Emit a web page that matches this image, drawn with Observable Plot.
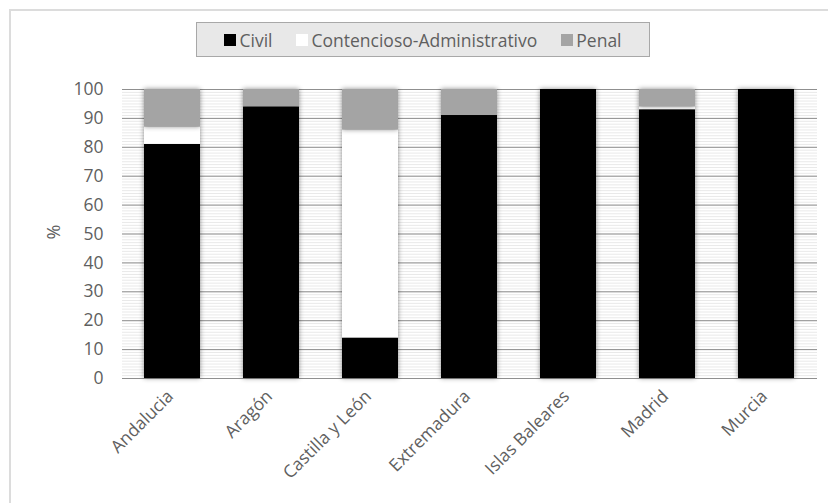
<!DOCTYPE html>
<html>
<head>
<meta charset="utf-8">
<script src="https://cdn.jsdelivr.net/npm/d3@7"></script>
<script src="https://cdn.jsdelivr.net/npm/@observablehq/plot@0.6"></script>
<style>
  html, body { margin: 0; padding: 0; background: #fff; }
  #wrap { position: relative; width: 828px; height: 503px; overflow: hidden; font-family: "Open Sans", "Noto Sans", sans-serif; }
  #frame { position: absolute; left: 9px; top: 9px; width: 830px; height: 510px; border-top: 2px solid #dcdcdc; border-left: 2px solid #dcdcdc; box-sizing: border-box; }
  #chart { position: absolute; left: 0; top: 0; }
  #legend { position: absolute; left: 196px; top: 22px; width: 454px; height: 35px; box-sizing: border-box; background: #e8e8e8; border: 1px solid #a8a8a8; display: flex; align-items: center; justify-content: center; gap: 24px; font-size: 17.5px; color: #5f5f5f; }
  #legend .item { display: flex; align-items: center; gap: 3px; }
  #legend .sw { width: 12px; height: 12px; display: inline-block; }
  #ylabel { position: absolute; left: 46px; top: 220px; transform: rotate(-90deg); font-size: 18px; color: #5f5f5f; }
  .bars rect { filter: drop-shadow(0 0 2.5px rgba(0,0,0,0.45)); }
</style>
</head>
<body>
<div id="wrap">
  <div id="frame"></div>
  <div id="chart"></div>
  <div id="legend"></div>
  <div id="ylabel">%</div>
</div>
<script>
const regions = ["Andalucia", "Aragón", "Castilla y León", "Extremadura", "Islas Baleares", "Madrid", "Murcia"];
const series = ["Civil", "Contencioso-Administrativo", "Penal"];
const seriesColors = ["#000000", "#ffffff", "#a4a4a4"];
const civil = [81, 94, 14, 91, 100, 93, 100];
const contencioso = [6, 0, 72, 0, 0, 1, 0];
const penal = [13, 6, 14, 9, 0, 6, 0];
const yTicks = [0, 10, 20, 30, 40, 50, 60, 70, 80, 90, 100];

const values = [civil, contencioso, penal];
const data = [];
regions.forEach((r, i) => {
  series.forEach((s, j) => data.push({region: r, series: s, value: values[j][i]}));
});

const minorTicks = d3.range(0, 101, 1);

const chart = Plot.plot({
  width: 828,
  height: 503,
  marginTop: 89,
  marginBottom: 125,
  marginLeft: 122,
  marginRight: 11,
  style: {fontFamily: '"Open Sans", "Noto Sans", sans-serif', fontSize: "15px", color: "#5f5f5f", background: "transparent"},
  x: {domain: regions, paddingInner: 0.43, paddingOuter: 0.215, label: null},
  y: {domain: [0, 100], label: null},
  color: {domain: series, range: seriesColors},
  marks: [
    Plot.ruleY(minorTicks, {stroke: "#e9e9e9", strokeWidth: 1}),
    Plot.ruleY(yTicks, {stroke: "#8f8f8f", strokeWidth: 1}),
    Plot.barY(data, {x: "region", y: "value", fill: "series", className: "bars"}),
    Plot.axisY({ticks: yTicks, tickSize: 0, tickPadding: 19, label: null, fill: "#5f5f5f", fontSize: 17.5}),
    Plot.axisX({tickSize: 0, tickRotate: -45, tickPadding: 15, label: null, fill: "#5f5f5f", fontSize: 17.5, dx: -2})
  ]
});
document.getElementById("chart").appendChild(chart);

const legend = document.getElementById("legend");
series.forEach((s, j) => {
  const item = document.createElement("span");
  item.className = "item";
  const sw = document.createElement("span");
  sw.className = "sw";
  sw.style.background = seriesColors[j];
  const t = document.createElement("span");
  t.textContent = s;
  item.appendChild(sw);
  item.appendChild(t);
  legend.appendChild(item);
});
</script>
</body>
</html>
